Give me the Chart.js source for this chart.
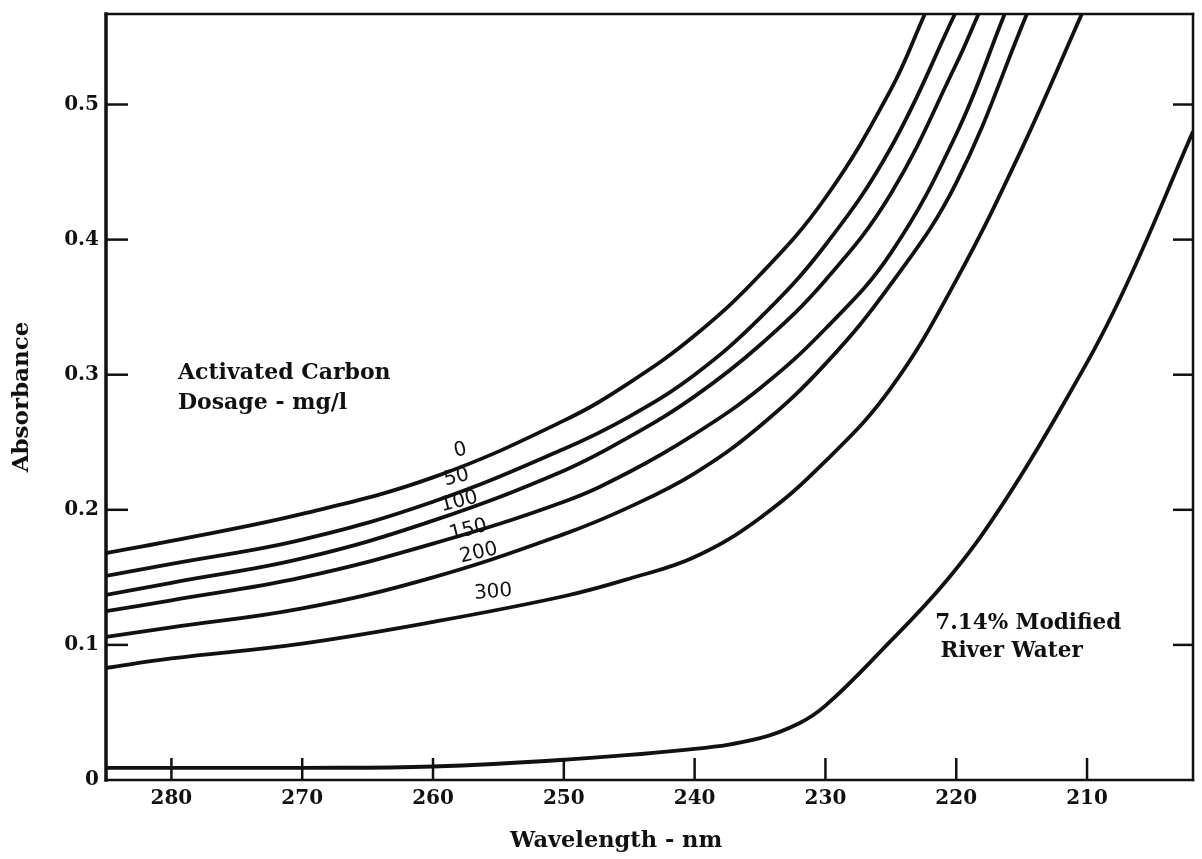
<!DOCTYPE html>
<html><head><meta charset="utf-8">
<script src="https://cdn.jsdelivr.net/npm/chart.js@4/dist/chart.umd.min.js"></script>
<style>html,body{margin:0;padding:0;background:#fff;}#wrap{width:1202px;height:859px;}</style>
</head><body><div id="wrap"><canvas id="c" width="1202" height="859"></canvas></div>
<script>
// ---- data ----
const dosages = ['0', '50', '100', '150', '200', '300'];
const wl0   = [285, 280, 270, 260, 250, 245, 240, 235, 230, 225, 222.4];
const abs0  = [0.168, 0.177, 0.197, 0.224, 0.266, 0.294, 0.329, 0.374, 0.431, 0.511, 0.567];
const wl50  = [285, 280, 270, 260, 250, 245, 240, 235, 230, 225, 220.1];
const abs50 = [0.151, 0.160, 0.178, 0.206, 0.245, 0.269, 0.300, 0.342, 0.396, 0.468, 0.567];
const wl100  = [285, 280, 270, 260, 250, 245, 240, 235, 230, 225, 220, 218.3];
const abs100 = [0.137, 0.146, 0.164, 0.192, 0.229, 0.254, 0.284, 0.322, 0.370, 0.434, 0.530, 0.567];
const wl150  = [285, 280, 270, 260, 250, 245, 240, 235, 230, 225, 220, 216.3];
const abs150 = [0.125, 0.133, 0.150, 0.175, 0.206, 0.228, 0.256, 0.290, 0.334, 0.390, 0.478, 0.567];
const wl200  = [285, 280, 270, 260, 250, 245, 240, 235, 230, 225, 220, 214.6];
const abs200 = [0.106, 0.113, 0.127, 0.150, 0.182, 0.202, 0.227, 0.262, 0.308, 0.367, 0.442, 0.567];
const wl300  = [285, 280, 270, 260, 250, 245, 240, 235, 230, 225, 220, 215, 210.4];
const abs300 = [0.083, 0.090, 0.101, 0.117, 0.136, 0.149, 0.165, 0.194, 0.236, 0.290, 0.370, 0.467, 0.567];
const riverWl  = [285, 280, 270, 260, 250, 240, 235, 232, 230, 225.8, 220.7, 216.6, 212, 207.5, 201.9];
const riverAbs = [0.009, 0.009, 0.009, 0.010, 0.015, 0.023, 0.031, 0.042, 0.055, 0.095, 0.148, 0.202, 0.275, 0.356, 0.480];
const xTicks = [280, 270, 260, 250, 240, 230, 220, 210];
const yTicks = [0, 0.1, 0.2, 0.3, 0.4, 0.5];
const xRange = [201.9, 285];
const yRange = [0, 0.567];
const xTitle = 'Wavelength - nm';
const yTitle = 'Absorbance';

// ---- styling / annotations ----
const INK = '#111';
const SERIF = '"DejaVu Serif", "Liberation Serif", serif';
const toPts = (xs, ys) => xs.map((v, i) => ({x: v, y: ys[i]}));
const curveSets = [[wl0, abs0], [wl50, abs50], [wl100, abs100], [wl150, abs150], [wl200, abs200], [wl300, abs300]];
const datasets = curveSets.map((s, i) => ({
  label: dosages[i] + ' mg/l', data: toPts(s[0], s[1])
}));
datasets.push({label: '7.14% Modified River Water', data: toPts(riverWl, riverAbs)});
datasets.forEach(d => Object.assign(d, {
  borderColor: INK, borderWidth: 3.8, pointRadius: 0, fill: false,
  cubicInterpolationMode: 'default', tension: 0.4
}));

// curve label anchors (data coordinates) and rotation
const curveLabelAt = [
  {x: 257.9, y: 0.244, r: -14}, {x: 258.2, y: 0.224, r: -14}, {x: 258.0, y: 0.206, r: -14},
  {x: 257.3, y: 0.185, r: -14}, {x: 256.5, y: 0.168, r: -13}, {x: 255.4, y: 0.139, r: -5}
];
const notes = [
  {text: 'Activated Carbon', x: 279.5, y: 0.301, size: 22},
  {text: 'Dosage - mg/l', x: 279.5, y: 0.279, size: 22},
  {text: '7.14% Modified', x: 221.6, y: 0.116, size: 21.5},
  {text: 'River Water', x: 221.2, y: 0.095, size: 21.5}
];

const framePlugin = {
  id: 'frame',
  afterDatasetsDraw(chart) {
    const {ctx, chartArea: a, scales: {x, y}} = chart;
    const line = (x1, y1, x2, y2) => { ctx.beginPath(); ctx.moveTo(x1, y1); ctx.lineTo(x2, y2); ctx.stroke(); };
    ctx.save();
    ctx.strokeStyle = INK; ctx.lineCap = 'square';
    ctx.lineWidth = 2.5;
    line(a.left, a.top, a.right, a.top);
    line(a.right, a.top, a.right, a.bottom);
    line(a.left, a.bottom, a.right, a.bottom);
    ctx.lineWidth = 3.5;
    line(a.left, a.top, a.left, a.bottom);
    ctx.lineWidth = 2.5; ctx.lineCap = 'butt';
    xTicks.forEach(v => { const px = x.getPixelForValue(v); line(px, a.bottom, px, a.bottom - 22); });
    yTicks.forEach(v => {
      if (v === 0) return;
      const py = y.getPixelForValue(v);
      line(a.left, py, a.left + 22, py);
      line(a.right, py, a.right - 20, py);
    });
    // curve labels
    ctx.fillStyle = INK;
    ctx.font = '20px "DejaVu Sans", sans-serif';
    ctx.textAlign = 'center'; ctx.textBaseline = 'middle';
    curveLabelAt.forEach((p, i) => {
      ctx.save();
      ctx.translate(x.getPixelForValue(p.x), y.getPixelForValue(p.y));
      ctx.rotate(p.r * Math.PI / 180);
      ctx.fillText(dosages[i], 0, 0);
      ctx.restore();
    });
    // notes
    ctx.textAlign = 'left';
    notes.forEach(n => {
      ctx.font = 'bold ' + n.size + 'px ' + SERIF;
      ctx.fillText(n.text, x.getPixelForValue(n.x), y.getPixelForValue(n.y));
    });
    // axis titles
    ctx.textAlign = 'center';
    ctx.font = 'bold 22.5px ' + SERIF;
    ctx.fillText(xTitle, x.getPixelForValue(246), 841);
    ctx.save();
    ctx.translate(22, (a.top + a.bottom) / 2);
    ctx.rotate(-Math.PI / 2);
    ctx.font = 'bold 23px ' + SERIF;
    ctx.fillText(yTitle, 0, 0);
    ctx.restore();
    ctx.restore();
  }
};

new Chart(document.getElementById('c'), {
  type: 'line',
  data: {datasets},
  options: {
    responsive: false, animation: false, devicePixelRatio: 1,
    layout: {padding: {left: 0, top: 14, right: 9, bottom: 0}},
    plugins: {legend: {display: false}, tooltip: {enabled: false}},
    scales: {
      x: {
        type: 'linear', reverse: true, min: xRange[0], max: xRange[1],
        afterBuildTicks: s => { s.ticks = xTicks.map(v => ({value: v})); },
        afterFit: s => { s.height = 79; s.paddingLeft = 0; s.paddingRight = 0; },
        grid: {display: false, drawTicks: false},
        border: {display: false},
        ticks: {color: INK, padding: 7, maxRotation: 0, font: {family: SERIF, size: 20, weight: 'bold'},
                callback: v => String(v)},
        title: {display: false, text: xTitle}
      },
      y: {
        type: 'linear', min: yRange[0], max: yRange[1],
        afterBuildTicks: s => { s.ticks = yTicks.map(v => ({value: v})); },
        afterFit: s => { s.width = 106; s.paddingTop = 0; s.paddingBottom = 0; },
        grid: {display: false, drawTicks: false},
        border: {display: false},
        ticks: {color: INK, padding: 7, font: {family: SERIF, size: 20, weight: 'bold'},
                callback: v => v === 0 ? '0' : v.toFixed(1)},
        title: {display: false, text: yTitle}
      }
    }
  },
  plugins: [framePlugin]
});
</script></body></html>
